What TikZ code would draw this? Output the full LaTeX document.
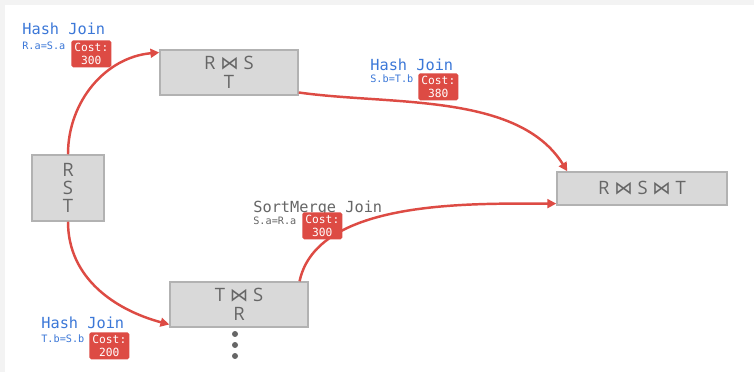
\documentclass[tikz,border=0pt]{standalone}
\usepackage{fontspec}
\setmainfont{Open Sans}
\newfontfamily\codefont{DejaVu Sans Mono}
\newfontfamily\joinfont{DejaVu Sans}
\usetikzlibrary{arrows.meta}
\definecolor{panegrey}{RGB}{243,243,243}
\definecolor{relfill}{RGB}{217,217,217}
\definecolor{reledge}{RGB}{178,178,178}
\definecolor{reltext}{RGB}{102,102,102}
\definecolor{joinblue}{RGB}{60,120,216}
\definecolor{costred}{RGB}{221,75,68}
\newcommand{\jn}{\ {\joinfont ⋈}\ }

\begin{document}
\begin{tikzpicture}[x=0.02cm, y=0.02cm,
    rel/.style={draw=reledge, line width=0.85pt, fill=relfill, text=reltext,
                font=\fontsize{10.5}{10.2}\selectfont, align=center, inner sep=0pt},
    algo/.style={font=\codefont\fontsize{8.7}{10}\selectfont, text=joinblue,
                 anchor=base west, inner sep=0pt},
    pred/.style={algo, font=\codefont\fontsize{5.8}{7}\selectfont},
    cost/.style={fill=costred, text=white, font=\codefont\fontsize{6.4}{7.4}\selectfont,
                 align=center, anchor=north west, inner sep=0pt, rounded corners=1pt,
                 minimum width=0.8cm, minimum height=0.54cm},
    plan/.style={-{Triangle[length=5pt, width=5pt]}, draw=costred, line width=1.4pt},
    dot/.style={circle, fill=reltext, inner sep=0pt, minimum size=0.12cm}
  ]
  \useasboundingbox (0,0) rectangle (754,372);
  \fill[panegrey] (0,0) rectangle (754,372);
  \fill[white] (5,0) rectangle (754,367);

  \node[rel, minimum width=1.44cm, minimum height=1.32cm] (rst) at (68,184) {R\\S\\T};
  \node[rel, minimum width=2.76cm, minimum height=0.9cm] (rs) at (229,299.5) {R\jn S\\[0.5pt]T};
  \node[rel, minimum width=2.76cm, minimum height=0.9cm] (ts) at (239,67.5) {T\jn S\\[0.5pt]R};
  \node[rel, minimum width=3.4cm, minimum height=0.66cm] (fin) at (642,183.5) {R\jn S\jn T};

  \node[dot] (d1) at (235,38) {};
  \node[dot] (d2) at (235,27) {};
  \node[dot] (d3) at (235,16) {};

  \draw[plan] (rst.north) to[out=90, in=185] (rs.164);
  \draw[plan] (rs.344) to[out=-8, in=122, looseness=0.85] (fin.167);
  \draw[plan] (rst.south) to[out=-90, in=165] (ts.196);
  \draw[plan] (ts.21) to[out=78, in=180, looseness=0.8] (fin.190);

  \node[algo] (hj1) at (22,337) {Hash Join};
  \node[pred] (p1) at (22,322) {R.a=S.a};
  \node[cost] (c1) at (71,332) {Cost:\\300};

  \node[algo] (hj2) at (370,301) {Hash Join};
  \node[pred] (p2) at (370,289) {S.b=T.b};
  \node[cost] (c2) at (418,299) {Cost:\\380};

  \node[algo, text=reltext] (smj) at (253,159) {SortMerge Join};
  \node[pred, text=reltext] (p3) at (253,147) {S.a=R.a};
  \node[cost] (c3) at (302,160) {Cost:\\300};

  \node[algo] (hj3) at (41,44) {Hash Join};
  \node[pred] (p4) at (41,30) {T.b=S.b};
  \node[cost] (c4) at (89,40) {Cost:\\200};
\end{tikzpicture}
\end{document}
